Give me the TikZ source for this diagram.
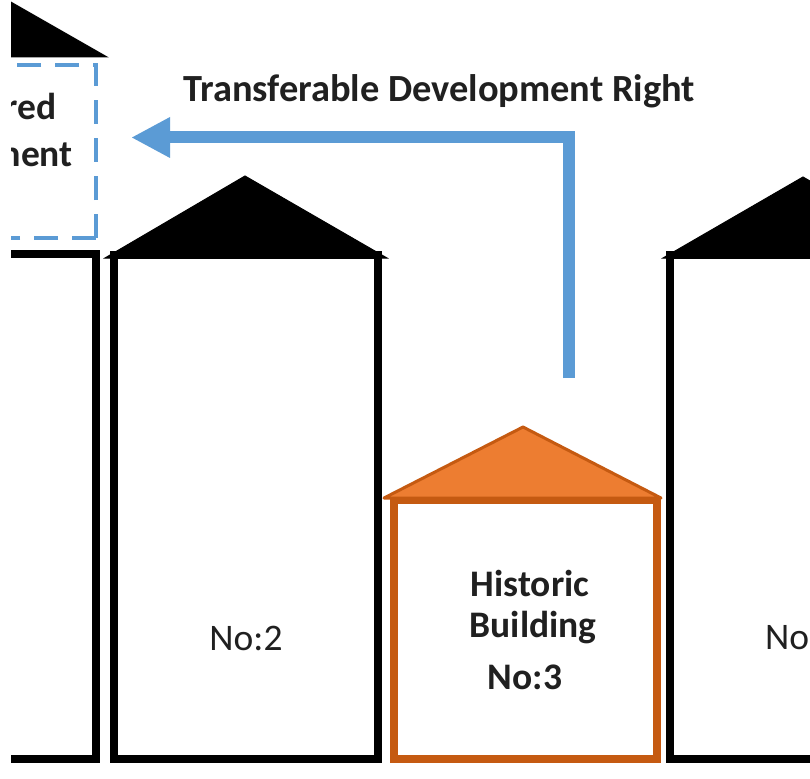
\documentclass[tikz,border=0pt]{standalone}
\usepackage{fontspec}
\setmainfont{Carlito}
\definecolor{tdrblue}{HTML}{5B9BD5}
\definecolor{hisfill}{HTML}{ED7D31}
\definecolor{hisline}{HTML}{C55A11}
\definecolor{txt}{HTML}{202020}
\begin{document}
\begin{tikzpicture}[x=1pt,y=-1pt,
  wall/.style={draw=black,line width=8pt,fill=white},
  roof/.style={fill=black,draw=black,line width=1pt,line join=miter},
  hwall/.style={draw=hisline,line width=8pt,fill=white},
  hroof/.style={fill=hisfill,draw=hisline,line width=3pt,line join=round},
  lbl/.style={inner sep=0pt,text=txt,font=\fontsize{37.5}{45}\selectfont},
  blbl/.style={inner sep=0pt,text=txt,font=\fontsize{37.5}{45}\selectfont\bfseries}]
\useasboundingbox (0,0) rectangle (810,778);
\fill[white] (0,0) rectangle (810,778);
\begin{scope}
\clip (11,0) rectangle (810,768);
% building 1 (left, cut)
\draw[wall] (-200,254) rectangle (96,759);
\fill[roof] (-173,57) -- (-33,-23) -- (107,57) -- cycle;
\draw[tdrblue,line width=4.5pt,dash pattern=on 24pt off 14pt] (96,238) -- (96,65) -- (-200,65);
\draw[tdrblue,line width=4.5pt,dash pattern=on 24pt off 14pt] (96,238) -- (-200,238);
\node[blbl,anchor=base east] (t1) at (57,120) {Transferred};
\node[blbl,anchor=base east] (t2) at (73,167) {Development};
% building 2
\draw[wall] (114,255) rectangle (378,759);
\fill[roof] (105,258) -- (245,176) -- (387,258) -- cycle;
\node[lbl] (n2) at (246,638) {No:2};
% historic building
\draw[hwall] (394,500) rectangle (657,759);
\filldraw[hroof] (384,498) -- (523,427) -- (661,498) -- cycle;
\node[blbl] (h1) at (530,583) {Historic};
\node[blbl] (h2) at (533,628) {Building};
\node[blbl] (h3) at (525,677) {No:3};
% building 4 (right, cut)
\draw[wall] (670,255) rectangle (950,759);
\fill[roof] (663,258) -- (803,177) -- (943,258) -- cycle;
\node[lbl,anchor=west] (n4) at (765,638) {No:4};
% TDR arrow
\coordinate (as) at (569,378);
\coordinate (ac) at (569,137.5);
\coordinate (ae) at (168,137.5);
\draw[tdrblue,line width=12pt] (as) -- (ac) -- (ae);
\fill[tdrblue] (170,117) -- (132,137.5) -- (170,158) -- cycle;
\node[inner sep=0pt,text=txt,font=\fontsize{38.4}{46}\selectfont\bfseries,anchor=base west] (tdr) at (183,102) {Transferable Development Right};
\end{scope}
\end{tikzpicture}
\end{document}
